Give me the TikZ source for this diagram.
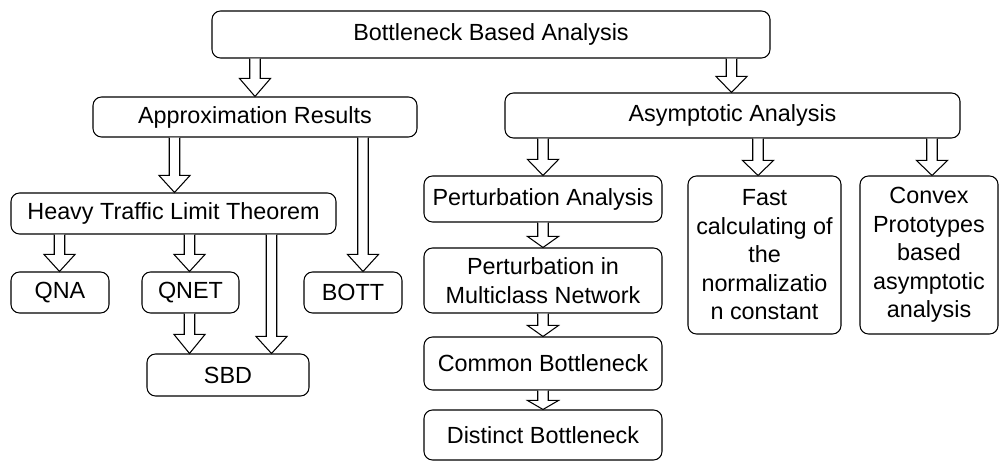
\documentclass[tikz,border=0pt]{standalone}
\usepackage{fontspec}
\setmainfont{Liberation Sans}
\usetikzlibrary{calc}

% hollow block arrow: [head length] {x in cm} {from} {to}
\newcommand{\barrow}[4][0.34]{%
  \draw[barr] let \p1=(#3.south), \p2=(#4.north) in
    ({#2cm-0.105cm},\y1) -- ({#2cm-0.105cm},{\y2+#1cm}) -- ({#2cm-0.31cm},{\y2+#1cm})
    -- (#2cm,\y2) -- ({#2cm+0.31cm},{\y2+#1cm}) -- ({#2cm+0.105cm},{\y2+#1cm})
    -- ({#2cm+0.105cm},\y1);
}

\begin{document}
\begin{tikzpicture}[
  rbox/.style={rectangle, rounded corners=0.17cm, draw=black, line width=0.6pt,
               fill=white, inner sep=0pt, align=center,
               font=\fontsize{13.3}{16.2}\selectfont},
  barr/.style={draw=black, line width=0.6pt, fill=white, line join=miter}
]
\useasboundingbox (0,0) rectangle (19.98,-9.22);

% Root
\node[rbox, minimum width=11.16cm, minimum height=0.94cm] (top) at (9.82,-0.69) {Bottleneck Based Analysis};

% Second level
\node[rbox, minimum width=6.48cm, minimum height=0.80cm] (appr) at (5.10,-2.34) {Approximation Results};
\node[rbox, minimum width=9.10cm, minimum height=0.90cm] (asym) at (14.65,-2.31) {Asymptotic Analysis};

% Approximation branch
\node[rbox, minimum width=6.50cm, minimum height=0.82cm] (heavy) at (3.47,-4.27) {Heavy Traffic Limit Theorem};
\node[rbox, minimum width=1.96cm, minimum height=0.82cm] (qna)   at (1.20,-5.85) {QNA};
\node[rbox, minimum width=1.94cm, minimum height=0.82cm] (qnet)  at (3.81,-5.85) {QNET};
\node[rbox, minimum width=1.96cm, minimum height=0.82cm] (bott)  at (7.06,-5.85) {BOTT};
\node[rbox, minimum width=3.24cm, minimum height=0.84cm] (sbd)   at (4.56,-7.50) {SBD};

% Asymptotic branch
\node[rbox, minimum width=4.76cm, minimum height=0.92cm] (pert)  at (10.86,-3.98) {Perturbation Analysis};
\node[rbox, minimum width=4.76cm, minimum height=1.30cm] (multi) at (10.86,-5.61) {Perturbation in\\Multiclass Network};
\node[rbox, minimum width=4.76cm, minimum height=1.06cm] (comm)  at (10.86,-7.27) {Common Bottleneck};
\node[rbox, minimum width=4.76cm, minimum height=1.00cm] (dist)  at (10.86,-8.70) {Distinct Bottleneck};
\node[rbox, minimum width=3.06cm, minimum height=3.16cm] (fast)  at (15.29,-5.10) {Fast\\calculating of\\the\\normalizatio\\n constant};
\node[rbox, minimum width=2.76cm, minimum height=3.16cm] (conv)  at (18.58,-5.10) {Convex\\Prototypes\\based\\asymptotic\\analysis};

% Arrows
\barrow[0.36]{5.10}{top}{appr}
\barrow[0.32]{14.63}{top}{asym}
\barrow{3.49}{appr}{heavy}
\barrow{7.26}{appr}{bott}
\barrow{1.19}{heavy}{qna}
\barrow{3.79}{heavy}{qnet}
\barrow{5.43}{heavy}{sbd}
\barrow[0.38]{3.79}{qnet}{sbd}
\barrow[0.32]{10.86}{asym}{pert}
\barrow[0.30]{15.16}{asym}{fast}
\barrow[0.30]{18.64}{asym}{conv}
\barrow[0.22]{10.86}{pert}{multi}
\barrow[0.22]{10.86}{multi}{comm}
\barrow[0.18]{10.86}{comm}{dist}
\end{tikzpicture}
\end{document}
